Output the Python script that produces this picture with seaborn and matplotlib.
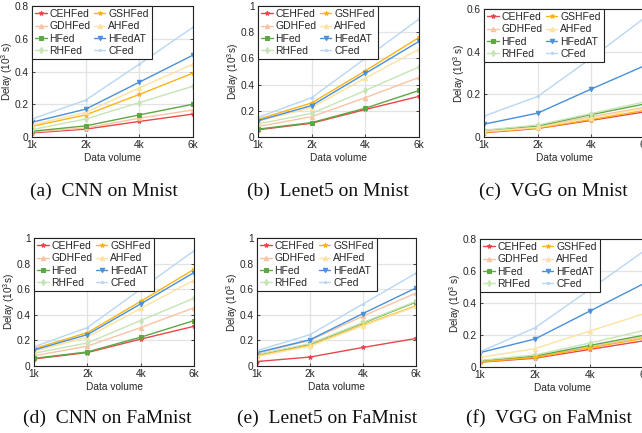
import matplotlib
matplotlib.use("Agg")
import matplotlib.pyplot as plt
import seaborn as sns
import pandas as pd

# ---------------- data ----------------
volumes = ["1k", "2k", "4k", "6k"]
methods = ["CEHFed", "GDHFed", "HFed", "RHFed", "GSHFed", "AHFed", "HFedAT", "CFed"]

cnn_mnist = {
    "CEHFed": [0.025, 0.048, 0.095, 0.14],
    "GDHFed": [0.030, 0.055, 0.115, 0.165],
    "HFed":   [0.035, 0.068, 0.135, 0.20],
    "RHFed":  [0.045, 0.110, 0.210, 0.31],
    "GSHFed": [0.065, 0.135, 0.260, 0.39],
    "AHFed":  [0.075, 0.150, 0.300, 0.445],
    "HFedAT": [0.090, 0.170, 0.335, 0.50],
    "CFed":   [0.110, 0.225, 0.445, 0.67],
}
lenet_mnist = {
    "CEHFed": [0.055, 0.105, 0.210, 0.31],
    "GDHFed": [0.080, 0.155, 0.300, 0.455],
    "HFed":   [0.060, 0.110, 0.220, 0.355],
    "RHFed":  [0.100, 0.180, 0.355, 0.535],
    "GSHFed": [0.135, 0.260, 0.505, 0.76],
    "AHFed":  [0.120, 0.225, 0.450, 0.67],
    "HFedAT": [0.125, 0.240, 0.485, 0.73],
    "CFed":   [0.150, 0.300, 0.600, 0.90],
}
vgg_mnist = {
    "CEHFed": [0.020, 0.040, 0.078, 0.118],
    "GDHFed": [0.027, 0.048, 0.095, 0.140],
    "HFed":   [0.030, 0.052, 0.105, 0.155],
    "RHFed":  [0.032, 0.056, 0.110, 0.165],
    "GSHFed": [0.022, 0.042, 0.082, 0.125],
    "AHFed":  [0.025, 0.045, 0.090, 0.135],
    "HFedAT": [0.060, 0.112, 0.225, 0.335],
    "CFed":   [0.098, 0.190, 0.370, 0.560],
}
cnn_famnist = {
    "CEHFed": [0.055, 0.105, 0.210, 0.31],
    "GDHFed": [0.080, 0.155, 0.300, 0.455],
    "HFed":   [0.060, 0.110, 0.225, 0.355],
    "RHFed":  [0.100, 0.180, 0.355, 0.53],
    "GSHFed": [0.135, 0.260, 0.505, 0.755],
    "AHFed":  [0.115, 0.225, 0.450, 0.67],
    "HFedAT": [0.125, 0.245, 0.485, 0.73],
    "CFed":   [0.150, 0.300, 0.600, 0.90],
}
lenet_famnist = {
    "CEHFed": [0.035, 0.070, 0.145, 0.215],
    "GDHFed": [0.100, 0.200, 0.390, 0.57],
    "HFed":   [0.085, 0.170, 0.335, 0.50],
    "RHFed":  [0.090, 0.175, 0.340, 0.505],
    "GSHFed": [0.080, 0.160, 0.320, 0.47],
    "AHFed":  [0.075, 0.155, 0.315, 0.465],
    "HFedAT": [0.105, 0.205, 0.410, 0.61],
    "CFed":   [0.120, 0.245, 0.485, 0.725],
}
vgg_famnist = {
    "CEHFed": [0.030, 0.055, 0.110, 0.165],
    "GDHFed": [0.035, 0.065, 0.125, 0.190],
    "HFed":   [0.038, 0.068, 0.135, 0.200],
    "RHFed":  [0.042, 0.075, 0.150, 0.230],
    "GSHFed": [0.032, 0.060, 0.120, 0.180],
    "AHFed":  [0.060, 0.115, 0.225, 0.335],
    "HFedAT": [0.090, 0.175, 0.350, 0.525],
    "CFed":   [0.095, 0.245, 0.485, 0.730],
}

captions = ["(a)  CNN on Mnist", "(b)  Lenet5 on Mnist", "(c)  VGG on Mnist",
            "(d)  CNN on FaMnist", "(e)  Lenet5 on FaMnist", "(f)  VGG on FaMnist"]
ylabels = ["Delay (10$^3$ s)", "Delay (10$^3$s)", "Delay (10$^3$ s)",
           "Delay (10$^3$s)", "Delay (10$^3$ s)", "Delay (10$^3$ s)"]
ytops = [0.8, 1.0, 0.6, 1.0, 1.0, 0.8]
panels = [cnn_mnist, lenet_mnist, vgg_mnist, cnn_famnist, lenet_famnist, vgg_famnist]

# ---------------- style ----------------
colors = {
    "CEHFed": "#e8474b", "GDHFed": "#f8c4a4", "HFed": "#5ea843", "RHFed": "#c6e4b4",
    "GSHFed": "#fdb515", "AHFed": "#fde2a0", "HFedAT": "#4a90d9", "CFed": "#b9d6f2",
}
markers = {
    "CEHFed": "*", "GDHFed": "^", "HFed": "s", "RHFed": "d",
    "GSHFed": "*", "AHFed": "^", "HFedAT": "v", "CFed": ".",
}

sns.set_style("ticks")
plt.rcParams["font.family"] = ["Liberation Sans", "DejaVu Sans"]
plt.rcParams["mathtext.default"] = "regular"
txt = "#262626"

W, H = 642, 433
# axes boxes in pixels: left, top, right, bottom
boxes = [(32, 6, 193, 137), (258, 6, 419, 137), (484, 9, 645, 137),
         (34, 238, 194, 366), (257, 238, 416, 366), (480, 239, 645, 367)]
cap_pos = [(104, 196), (328, 196), (553, 196), (107, 423), (327, 423), (549, 423)]

fig = plt.figure(figsize=(W / 100, H / 100), dpi=100)

for i, data in enumerate(panels):
    l, t, r, b = boxes[i]
    ax = fig.add_axes([l / W, 1 - b / H, (r - l) / W, (b - t) / H])
    rows = []
    for m in methods:
        for j, v in enumerate(data[m]):
            rows.append({"pos": j, "delay": v, "method": m})
    df = pd.DataFrame(rows)
    sns.lineplot(data=df, x="pos", y="delay", hue="method", style="method",
                 hue_order=methods, style_order=methods, palette=colors,
                 markers=markers, dashes=False, markersize=3.2, linewidth=1.0,
                 ax=ax)
    for ln in ax.lines:
        ln.set_markeredgecolor(ln.get_color())
    ax.set_xlim(0, len(volumes) - 1)
    ax.set_xticks(range(len(volumes)))
    ax.set_xticklabels(volumes)
    ax.set_ylim(0, ytops[i])
    yt = [round(k * 0.2, 1) for k in range(int(round(ytops[i] / 0.2)) + 1)]
    ax.set_yticks(yt)
    ax.set_yticklabels([("%g" % v) for v in yt])
    ax.grid(True, color="#e3e3e3", linewidth=0.9)
    ax.set_axisbelow(True)
    for s in ax.spines.values():
        s.set_visible(True)
        s.set_color("#222222")
        s.set_linewidth(0.8)
    ax.tick_params(direction="in", length=2.5, width=0.6, top=True, right=True,
                   labelsize=7.3, colors=txt, pad=2.5)
    ax.set_xlabel("Data volume", fontsize=7.3, color=txt, labelpad=1.5)
    ax.set_ylabel(ylabels[i], fontsize=7.2, color=txt, labelpad=-0.5)

    handles, labels = ax.get_legend_handles_labels()
    for h in handles:
        h.set_markeredgecolor(h.get_color())
    leg = ax.legend(handles, labels, ncol=2, loc="upper left", fontsize=7.5,
                    frameon=True, fancybox=False, framealpha=1, edgecolor="#222222",
                    borderaxespad=0.0, borderpad=0.3, handlelength=1.1,
                    handletextpad=0.25, columnspacing=0.35, labelspacing=0.22)
    leg.get_frame().set_linewidth(0.8)
    for tx in leg.get_texts():
        tx.set_color(txt)

    cx, cy = cap_pos[i]
    fig.text(cx / W, 1 - cy / H, captions[i], ha="center", va="baseline",
             fontsize=14, family=["Liberation Serif", "DejaVu Serif"], color="#111111")

fig.savefig("out.png", dpi=100)
